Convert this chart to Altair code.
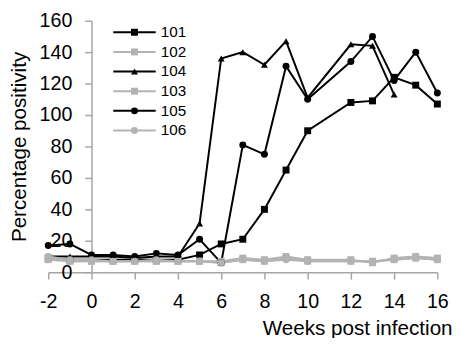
import altair as alt
import pandas as pd

weeks = [-2, -1, 0, 1, 2, 3, 4, 5, 6, 7, 8, 9, 10, 12, 13, 14, 15, 16]
s101 = [9, 8, 8, 8, 8, 8, 8, 11, 18, 21, 40, 65, 90, 108, 109, 124, 119, 107]
s102 = [9, 7, 7, 7, 7, 7, 7, 7, 6, 8, 7, 9, 7, 7, 7, 8, 9, 8]
s104 = [10, 10, 10, 10, 9, 10, 10, 31, 136, 140, 132, 147, 111, 145, 144, 113, None, None]
s103 = [8, 7, 7, 7, 7, 7, 7, 7, 7, 9, 8, 10, 8, 8, 6, 9, 10, 9]
s105 = [17, 18, 11, 11, 10, 12, 11, 21, 6, 81, 75, 131, 110, 134, 150, 122, 140, 114]
s106 = [10, 8, 8, 7, 7, 8, 7, 7, 6, 8, 7, 8, 7, 7, 7, 8, 9, 8]

series_order = ["101", "102", "104", "103", "105", "106"]
series_values = [s101, s102, s104, s103, s105, s106]
series_colors = ["#000000", "#b3b3b3", "#000000", "#b3b3b3", "#000000", "#b3b3b3"]
series_shapes = ["square", "square", "triangle-up", "square", "circle", "circle"]
x_ticks = list(range(-2, 17, 2))
y_ticks = list(range(0, 161, 20))

rows = []
for k, (name, vals) in enumerate(zip(series_order, series_values)):
    for w, v in zip(weeks, vals):
        if v is not None:
            rows.append({"week": w, "value": v, "series": name, "series_p": name, "order": k})
df = pd.DataFrame(rows)

FONT = "Liberation Sans"
AXIS_GRAY = "#a6a6a6"
W, H = 396, 256

x_enc = alt.X(
    "week:Q",
    scale=alt.Scale(domain=[-2, 16], nice=False, zero=False),
    axis=alt.Axis(
        values=x_ticks, title="Weeks post infection", labelFlush=False,
        labelExpr="'' + datum.value",
        tickSize=7, labelPadding=13, labelFontSize=20, labelFont=FONT, labelColor="#000000",
        titleFont=FONT, titleFontSize=21, titleFontWeight="normal", titleColor="#000000",
        titleX=411, titleY=63, titleAlign="right", titleBaseline="alphabetic",
    ),
)
y_enc = alt.Y(
    "value:Q",
    scale=alt.Scale(domain=[0, 160], nice=False),
    axis=alt.Axis(
        values=y_ticks, title="Percentage positivity", offset=-W * 2 / 18, labelFlush=False,
        tickSize=7, labelPadding=13, labelFontSize=20, labelFont=FONT, labelColor="#000000",
        titleFont=FONT, titleFontSize=21, titleFontWeight="normal", titleColor="#000000",
        titleX=-67, titleY=H / 2, titleAngle=270, titleAlign="center", titleBaseline="alphabetic",
    ),
)

legend_common = dict(
    orient="none", legendX=80, legendY=4, title=None, padding=0, rowPadding=3,
    labelFont=FONT, labelFontSize=15.5, labelColor="#000000", labelOffset=19,
)
# legend of the lines: a horizontal stroke 43 px long
line_legend = alt.Legend(symbolType="M-3.6,0H3.6", symbolSize=144, symbolStrokeWidth=2,
                         **legend_common)
# legend of the markers, drawn at the same place (its labels hidden)
point_legend = alt.Legend(symbolSize=50, symbolStrokeWidth=0, labelOpacity=0, **legend_common)

order_sort = alt.EncodingSortField(field="order", op="min")

lines = alt.Chart(df).mark_line(strokeWidth=2).encode(
    x=x_enc,
    y=y_enc,
    stroke=alt.Stroke("series:N", sort=order_sort,
                      scale=alt.Scale(range=series_colors), legend=line_legend),
)

points = alt.Chart(df).mark_point(filled=True, size=50, opacity=1).encode(
    x=x_enc,
    y=y_enc,
    fill=alt.Fill("series_p:N", sort=order_sort,
                  scale=alt.Scale(range=series_colors), legend=point_legend),
    shape=alt.Shape("series_p:N", sort=order_sort,
                    scale=alt.Scale(range=series_shapes), legend=point_legend),
)

chart = alt.layer(lines, points).properties(
    width=W, height=H,
    autosize=alt.AutoSizeParams(type="none"),
    padding={"left": 41, "top": 10, "right": 20, "bottom": 64},
).configure_view(stroke=None).configure_axis(
    grid=False, domainColor=AXIS_GRAY, domainWidth=1.5, tickColor=AXIS_GRAY, tickWidth=1.5,
)

chart.save("out.html", embed_options={"renderer": "svg", "actions": False})
